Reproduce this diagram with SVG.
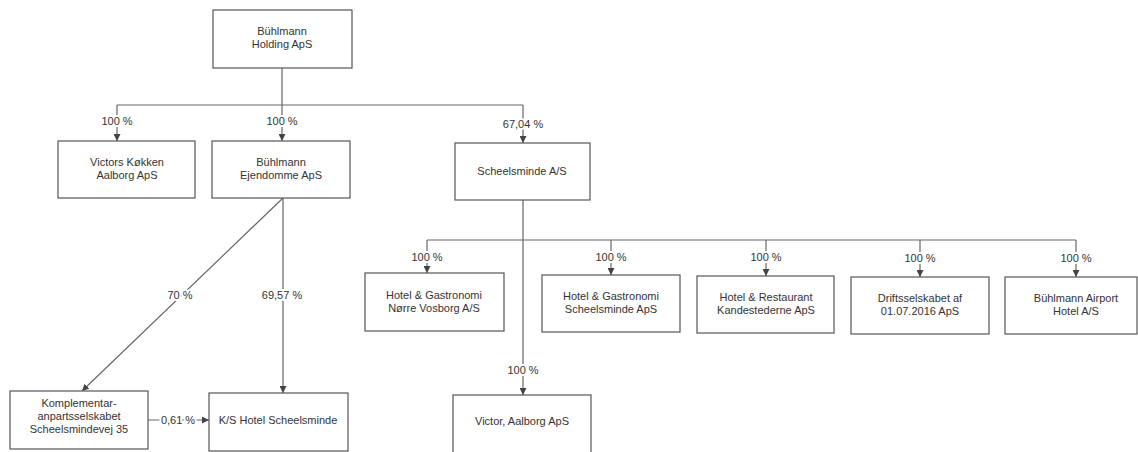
<svg xmlns="http://www.w3.org/2000/svg" width="1138" height="452" viewBox="0 0 1138 452">
<style>
.box{fill:#fff;stroke:#555;stroke-width:1.2}
.t{font-family:"Liberation Sans",Arial,sans-serif;font-size:11px;fill:#333;text-anchor:middle}
.lbl{font-family:"Liberation Sans",Arial,sans-serif;font-size:11px;fill:#333;text-anchor:middle;stroke:#fff;stroke-width:4;paint-order:stroke}
.c{fill:none;stroke:#666;stroke-width:1.2}
</style>
<defs>
<marker id="ah" viewBox="0 0 10 10" refX="10" refY="5" markerWidth="7" markerHeight="7" markerUnits="userSpaceOnUse" orient="auto">
<path d="M0,0 L10,5 L0,10 z" fill="#444"/>
</marker>
</defs>
<rect width="1138" height="452" fill="#fff"/>
<g id="connectors">
<path class="c" d="M282,68 V105"/>
<path class="c" d="M117,105 H523"/>
<path class="c" d="M117,105 V141" marker-end="url(#ah)"/>
<path class="c" d="M282,105 V141" marker-end="url(#ah)"/>
<path class="c" d="M523,105 V143" marker-end="url(#ah)"/>
<path class="c" d="M523,200 V395" marker-end="url(#ah)"/>
<path class="c" d="M427,240 H1076"/>
<path class="c" d="M427,240 V273" marker-end="url(#ah)"/>
<path class="c" d="M611,240 V275" marker-end="url(#ah)"/>
<path class="c" d="M766,240 V276" marker-end="url(#ah)"/>
<path class="c" d="M920,240 V277" marker-end="url(#ah)"/>
<path class="c" d="M1076,240 V277" marker-end="url(#ah)"/>
<path class="c" d="M283,198 V393" marker-end="url(#ah)"/>
<path class="c" d="M283,198 L82,391" marker-end="url(#ah)"/>
<path class="c" d="M148,420 H209" marker-end="url(#ah)"/>
<text class="lbl" x="117" y="125">100 %</text>
<text class="lbl" x="282" y="125">100 %</text>
<text class="lbl" x="523" y="128">67,04 %</text>
<text class="lbl" x="427" y="261">100 %</text>
<text class="lbl" x="611" y="261">100 %</text>
<text class="lbl" x="766" y="261">100 %</text>
<text class="lbl" x="920" y="262">100 %</text>
<text class="lbl" x="1076" y="262">100 %</text>
<text class="lbl" x="523" y="374">100 %</text>
<text class="lbl" x="180" y="299">70 %</text>
<text class="lbl" x="282" y="299">69,57 %</text>
<text class="lbl" x="178" y="424">0,61 %</text>
</g>
<g id="n-holding"><rect class="box" x="213" y="10" width="139" height="58"/><text class="t" x="282" y="35">Bühlmann</text><text class="t" x="282" y="48">Holding ApS</text></g>
<g id="n-victors"><rect class="box" x="58" y="141" width="137" height="57"/><text class="t" x="127" y="166">Victors Køkken</text><text class="t" x="127" y="179">Aalborg ApS</text></g>
<g id="n-ejendomme"><rect class="box" x="212" y="141" width="138" height="57"/><text class="t" x="281" y="166">Bühlmann</text><text class="t" x="281" y="179">Ejendomme ApS</text></g>
<g id="n-scheelsminde"><rect class="box" x="455" y="143" width="135" height="57"/><text class="t" x="522" y="175">Scheelsminde A/S</text></g>
<g id="n-narre"><rect class="box" x="365" y="273" width="139" height="58"/><text class="t" x="434" y="299">Hotel &amp; Gastronomi</text><text class="t" x="434" y="312">Nørre Vosborg A/S</text></g>
<g id="n-hgs"><rect class="box" x="542" y="275" width="138" height="57"/><text class="t" x="611" y="300">Hotel &amp; Gastronomi</text><text class="t" x="611" y="313">Scheelsminde ApS</text></g>
<g id="n-kandestederne"><rect class="box" x="697" y="276" width="137" height="57"/><text class="t" x="766" y="301">Hotel &amp; Restaurant</text><text class="t" x="766" y="314">Kandestederne ApS</text></g>
<g id="n-drift"><rect class="box" x="851" y="277" width="138" height="57"/><text class="t" x="920" y="302">Driftsselskabet af</text><text class="t" x="920" y="315">01.07.2016 ApS</text></g>
<g id="n-airport"><rect class="box" x="1005" y="277" width="132" height="57"/><text class="t" x="1076" y="302">Bühlmann Airport</text><text class="t" x="1076" y="315">Hotel A/S</text></g>
<g id="n-victor"><rect class="box" x="453" y="395" width="138" height="60"/><text class="t" x="522" y="425">Victor, Aalborg ApS</text></g>
<g id="n-komplementar"><rect class="box" x="10" y="391" width="138" height="58"/><text class="t" x="79" y="407">Komplementar-</text><text class="t" x="79" y="420">anpartsselskabet</text><text class="t" x="79" y="433">Scheelsmindevej 35</text></g>
<g id="n-ks"><rect class="box" x="209" y="393" width="139" height="58"/><text class="t" x="278" y="424">K/S Hotel Scheelsminde</text></g>
</svg>
